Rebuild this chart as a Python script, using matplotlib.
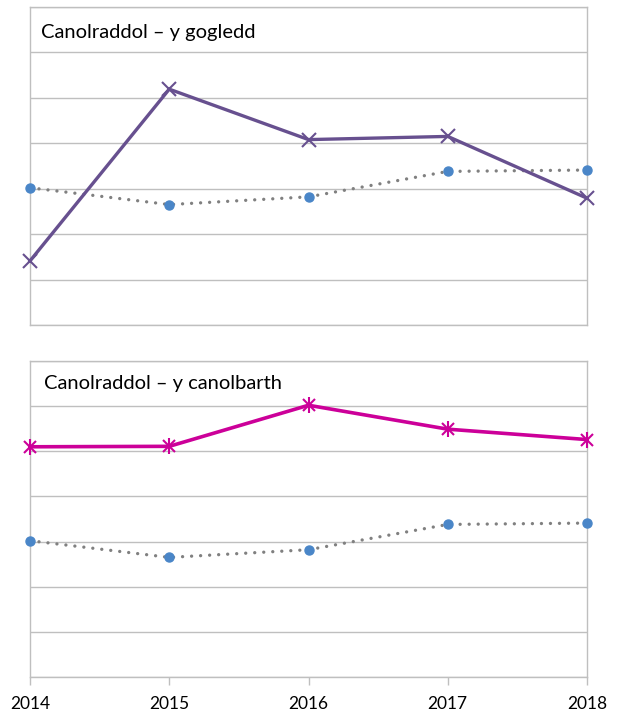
import matplotlib.pyplot as plt
import numpy as np

years = [2014, 2015, 2016, 2017, 2018]
# average line (same in both panels)
wales = [3.02, 2.65, 2.82, 3.38, 3.41]
# regional lines
north = [1.41, 5.19, 4.08, 4.15, 2.79]
mid = [5.10, 5.11, 6.02, 5.49, 5.26]

titles = ["Canolraddol \u2013 y gogledd", "Canolraddol \u2013 y canolbarth"]

plt.rcParams['font.family'] = ['Lato', 'DejaVu Sans']

fig = plt.figure(figsize=(6.2, 7.15), dpi=100)
ax1 = fig.add_axes([0.0484, 0.5455, 0.8984, 0.4448])
ax2 = fig.add_axes([0.0484, 0.0531, 0.8984, 0.4420])

grid_col = '#BFBFBF'

def setup(ax, title, show_x, ty):
    ax.set_xlim(2014, 2018)
    ax.set_ylim(0, 7)
    ax.set_yticks(np.arange(0, 8, 1))
    ax.set_xticks(years)
    ax.grid(axis='y', color=grid_col, linewidth=1)
    ax.set_axisbelow(True)
    for s in ax.spines.values():
        s.set_color(grid_col)
        s.set_linewidth(1)
    ax.tick_params(axis='y', left=False, labelleft=False)
    if show_x:
        ax.tick_params(axis='x', color=grid_col, length=6, width=1,
                       labelsize=12.5, pad=8, labelcolor='black')
        ax.set_xticklabels([str(y) for y in years])
    else:
        ax.tick_params(axis='x', bottom=False, labelbottom=False)
    ax.text(0.02 if not show_x else 0.025, ty, title, transform=ax.transAxes,
            fontsize=14.5, va='center', ha='left', color='black')

setup(ax1, titles[0], False, 0.921)
setup(ax2, titles[1], True, 0.93)

for ax in (ax1, ax2):
    ax.plot(years, wales, color='#808080', linestyle=(0, (0.01, 2.7)),
            linewidth=2.4, dash_capstyle='round', zorder=3)
    ax.plot(years, wales, linestyle='none', marker='o', markersize=6.5,
            color='#4A86C8', clip_on=False, zorder=4)

ax1.plot(years, north, color='#67508F', linewidth=2.4, marker='x',
         markersize=10, markeredgewidth=1.5, clip_on=False, zorder=5)

ax2.plot(years, mid, color='#CC0099', linewidth=2.6, marker='x',
         markersize=9, markeredgewidth=1.5, clip_on=False, zorder=5)
ax2.plot(years, mid, linestyle='none', color='#CC0099', marker='|',
         markersize=11, markeredgewidth=1.5, clip_on=False, zorder=5)

fig.savefig('out.png', dpi=100)
